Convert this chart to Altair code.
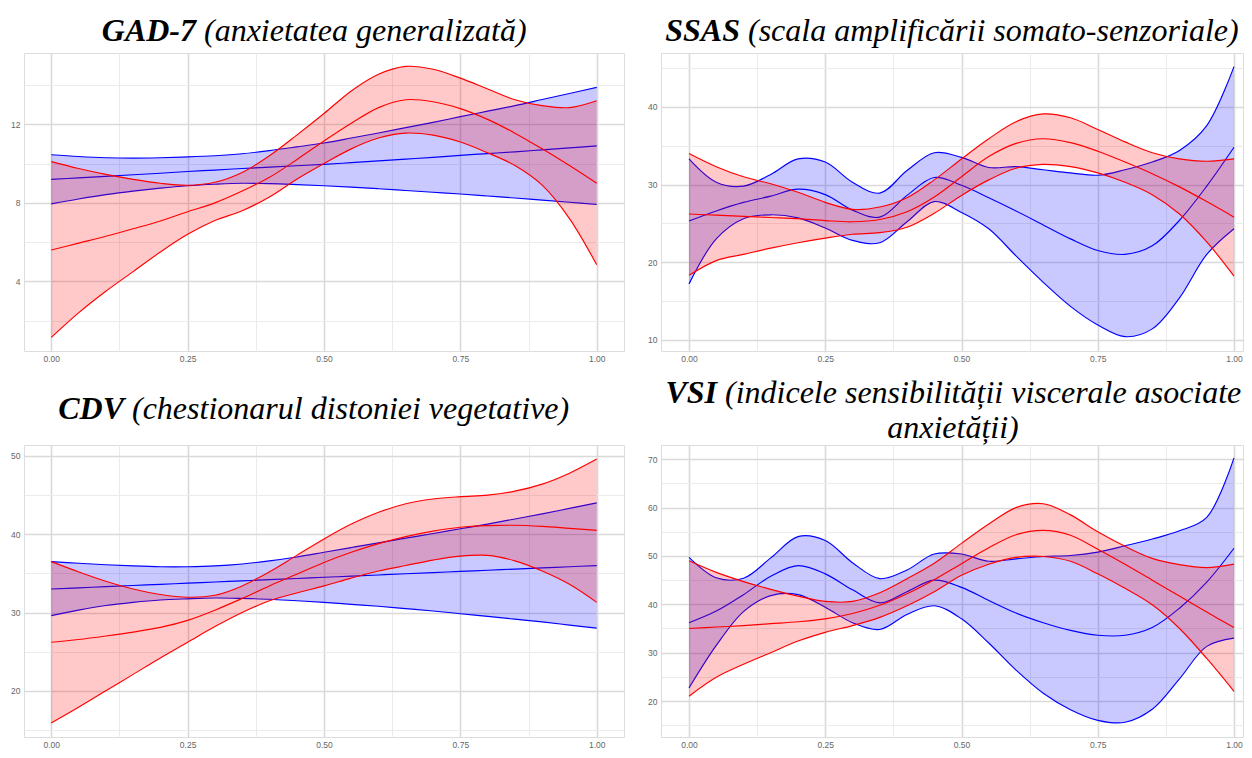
import altair as alt
import pandas as pd

# ---------------- data ----------------
x_vals = [0.0, 0.05, 0.1, 0.15, 0.2, 0.25, 0.3, 0.35, 0.4, 0.45, 0.5,
          0.55, 0.6, 0.65, 0.7, 0.75, 0.8, 0.85, 0.9, 0.95, 1.0]

gad_blue_lo = [7.95, 8.2, 8.42, 8.6, 8.75, 8.87, 8.95, 9.0, 8.98, 8.93, 8.87, 8.8, 8.72, 8.63, 8.54, 8.45, 8.35, 8.25, 8.14, 8.03, 7.92]
gad_blue_mid = [9.2, 9.27, 9.35, 9.43, 9.51, 9.6, 9.67, 9.75, 9.82, 9.89, 9.96, 10.05, 10.14, 10.23, 10.32, 10.42, 10.51, 10.6, 10.7, 10.8, 10.9]
gad_blue_hi = [10.45, 10.36, 10.3, 10.28, 10.3, 10.34, 10.4, 10.5, 10.66, 10.85, 11.05, 11.3, 11.56, 11.83, 12.1, 12.39, 12.67, 12.95, 13.26, 13.57, 13.88]
gad_red_lo = [1.15, 2.4, 3.5, 4.5, 5.5, 6.4, 7.1, 7.6, 8.3, 9.2, 10.0, 10.75, 11.3, 11.55, 11.45, 11.1, 10.55, 9.9, 8.9, 7.2, 4.85]
gad_red_mid = [5.6, 5.95, 6.3, 6.68, 7.08, 7.55, 8.0, 8.6, 9.3, 10.2, 11.15, 12.05, 12.85, 13.25, 13.15, 12.8, 12.25, 11.55, 10.75, 9.9, 9.0]
gad_red_hi = [10.1, 9.75, 9.45, 9.2, 9.0, 8.9, 9.05, 9.55, 10.4, 11.45, 12.55, 13.7, 14.55, 14.95, 14.8, 14.35, 13.8, 13.25, 12.95, 12.85, 13.2]

ssas_blue_lo = [17.2, 23.0, 25.6, 26.1, 25.7, 24.4, 22.8, 22.5, 25.2, 27.8, 26.4, 24.3, 20.8, 17.4, 14.3, 11.9, 10.4, 11.4, 15.4, 21.0, 24.3]
ssas_blue_mid = [25.3, 26.6, 27.7, 28.5, 29.4, 28.7, 26.7, 25.8, 28.6, 30.9, 29.9, 28.3, 26.6, 24.8, 23.0, 21.5, 21.0, 22.1, 25.4, 29.8, 34.8]
ssas_blue_hi = [33.3, 30.3, 29.8, 31.3, 33.3, 32.9, 30.3, 28.9, 31.8, 34.1, 33.5, 32.2, 32.3, 31.9, 31.5, 31.2, 31.9, 32.9, 34.4, 37.6, 45.2]
ssas_red_lo = [18.3, 20.2, 21.0, 21.8, 22.5, 23.1, 23.6, 23.8, 24.5, 26.3, 28.6, 30.6, 32.1, 32.6, 32.3, 31.5, 30.3, 28.7, 26.2, 22.6, 18.2]
ssas_red_mid = [26.2, 26.05, 25.9, 25.75, 25.6, 25.35, 25.2, 25.5, 26.5, 28.4, 31.0, 33.6, 35.3, 35.9, 35.4, 34.3, 32.9, 31.4, 29.7, 27.8, 25.8]
ssas_red_hi = [34.0, 32.3, 31.0, 30.1, 29.0, 27.7, 26.8, 27.1, 28.3, 30.6, 33.3, 35.9, 38.1, 39.1, 38.6, 37.1, 35.5, 34.1, 33.3, 33.0, 33.3]

cdv_blue_lo = [29.6, 30.3, 30.9, 31.3, 31.6, 31.75, 31.85, 31.8, 31.7, 31.5, 31.3, 31.05, 30.8, 30.5, 30.2, 29.85, 29.5, 29.15, 28.8, 28.4, 28.0]
cdv_blue_mid = [33.0, 33.15, 33.3, 33.45, 33.6, 33.75, 33.9, 34.05, 34.2, 34.35, 34.5, 34.65, 34.8, 34.95, 35.1, 35.25, 35.4, 35.55, 35.7, 35.85, 36.0]
cdv_blue_hi = [36.5, 36.3, 36.1, 35.95, 35.85, 35.85, 35.95, 36.2, 36.6, 37.1, 37.7, 38.3, 38.9, 39.5, 40.1, 40.7, 41.3, 41.95, 42.6, 43.3, 44.0]
cdv_red_lo = [15.9, 17.9, 20.0, 22.1, 24.2, 26.2, 28.2, 30.0, 31.5, 32.5, 33.4, 34.4, 35.3, 36.0, 36.7, 37.2, 37.3, 36.6, 35.3, 33.6, 31.3]
cdv_red_mid = [26.2, 26.55, 27.0, 27.5, 28.1, 29.0, 30.3, 31.8, 33.4, 34.9, 36.4, 37.7, 38.8, 39.7, 40.4, 40.9, 41.1, 41.15, 41.0, 40.75, 40.5]
cdv_red_hi = [36.5, 35.2, 34.0, 33.0, 32.3, 31.95, 32.2, 33.4, 35.2, 37.3, 39.4, 41.3, 42.8, 43.9, 44.5, 44.8, 45.0, 45.5, 46.4, 47.8, 49.6]

vsi_blue_lo = [22.7, 31.5, 38.5, 41.8, 42.0, 39.4, 36.2, 34.8, 37.9, 39.7, 37.0, 32.0, 26.4, 21.6, 18.2, 16.0, 15.6, 18.3, 24.6, 31.3, 33.0]
vsi_blue_mid = [36.2, 38.6, 42.0, 45.8, 48.0, 46.3, 43.0, 40.3, 42.6, 45.0, 43.5, 40.8, 38.2, 36.2, 34.6, 33.6, 33.6, 35.2, 39.2, 44.6, 51.6]
vsi_blue_hi = [49.7, 45.5, 45.4, 49.6, 54.0, 53.2, 48.6, 45.3, 47.1, 50.4, 50.4, 48.9, 49.4, 49.9, 50.1, 50.8, 52.1, 53.5, 55.2, 58.0, 70.3]
vsi_red_lo = [21.0, 24.9, 27.6, 30.0, 32.4, 34.2, 35.6, 37.3, 39.7, 42.6, 46.0, 48.3, 49.7, 49.9, 48.9, 46.3, 43.3, 39.9, 35.0, 28.8, 22.0]
vsi_red_mid = [35.0, 35.3, 35.6, 36.0, 36.4, 37.0, 38.1, 39.8, 42.2, 45.1, 48.4, 51.7, 54.4, 55.3, 54.3, 51.4, 48.3, 45.0, 41.7, 38.4, 35.2]
vsi_red_hi = [49.0, 46.6, 44.7, 43.1, 41.7, 40.6, 40.6, 42.4, 45.3, 48.5, 52.6, 56.6, 60.0, 60.8, 58.5, 55.0, 52.0, 49.5, 48.2, 47.6, 48.3]

# tick / grid values
x_ticks = [0.0, 0.125, 0.25, 0.375, 0.5, 0.625, 0.75, 0.875, 1.0]
gad_ticks = [2, 4, 6, 8, 10, 12, 14]
ssas_ticks = [10, 15, 20, 25, 30, 35, 40, 45]
cdv_ticks = [15, 20, 25, 30, 35, 40, 45, 50]
vsi_ticks = [15, 20, 25, 30, 35, 40, 45, 50, 55, 60, 65, 70]

# titles (bold abbreviation + italic description)
gad_title = ["GAD-7", "(anxietatea generalizată)"]
ssas_title = ["SSAS", "(scala amplificării somato-senzoriale)"]
cdv_title = ["CDV", "(chestionarul distoniei vegetative)"]
vsi_title = ["VSI", "(indicele sensibilității viscerale asociate", "anxietății)"]

RED = "#ff0000"
BLUE = "#0000ff"
SERIF = "Liberation Serif"
INTERP = "catmull-rom"


def band_df(lo, mid, hi):
    return pd.DataFrame({"x": x_vals, "lo": lo, "mid": mid, "hi": hi})


def grid_cond(test):
    color = {"condition": {"test": test, "value": "#d9d9d9"}, "value": "#ebebeb"}
    width = {"condition": {"test": test, "value": 1.6}, "value": 1.0}
    return color, width


def make_panel(blue, red, xdomain, ydomain, yticks, ymajor, width, height, titles):
    xc, xw = grid_cond("(datum.value * 4) % 1 == 0")
    yc, yw = grid_cond(f"datum.value % {ymajor} == 0")
    xaxis = alt.Axis(values=x_ticks, format=".2f",
                     labelExpr="(datum.value * 4) % 1 == 0 ? datum.label : ''",
                     grid=True, gridColor=xc, gridWidth=xw, domain=False,
                     ticks=False, tickSize=0, labelPadding=3, labelFontSize=8.5,
                     labelColor="#666666", labelFont="Liberation Sans",
                     labelOverlap=False, labelFlush=False, title=None)
    yaxis = alt.Axis(values=yticks,
                     labelExpr=f"datum.value % {ymajor} == 0 ? datum.label : ''",
                     grid=True, gridColor=yc, gridWidth=yw, domain=False,
                     ticks=False, tickSize=0, labelPadding=4, labelFontSize=8.5,
                     labelColor="#666666", labelFont="Liberation Sans",
                     labelOverlap=False, title=None)
    xs = alt.Scale(domain=xdomain, nice=False, zero=False)
    ys = alt.Scale(domain=ydomain, nice=False, zero=False)

    def bands(df, color):
        base = alt.Chart(df)
        area = base.mark_area(interpolate=INTERP, color=color, fillOpacity=0.21).encode(
            x=alt.X("x:Q", scale=xs, axis=xaxis),
            y=alt.Y("lo:Q", scale=ys, axis=yaxis),
            y2="hi:Q",
        )
        lines = base.transform_fold(["lo", "mid", "hi"], as_=["k", "v"]).mark_line(
            interpolate=INTERP, color=color, strokeWidth=1.15).encode(
            x=alt.X("x:Q", scale=xs, axis=xaxis),
            y=alt.Y("v:Q", scale=ys, axis=yaxis),
            detail="k:N",
        )
        return [area, lines]

    layers = bands(blue, BLUE) + bands(red, RED)
    for text, px, py, align, bold in titles:
        layers.append(
            alt.Chart(alt.Data(values=[{"t": text}])).mark_text(
                align=align, baseline="alphabetic", font=SERIF, fontSize=32,
                fontStyle="italic", fontWeight="bold" if bold else "normal",
                color="#000000").encode(
                text="t:N", x=alt.value(px), y=alt.value(py))
        )
    return alt.layer(*layers).properties(width=width, height=height)


LEFT_X = [-0.05, 1.05]
RIGHT_X = [-0.0514, 1.0165]

p1 = make_panel(band_df(gad_blue_lo, gad_blue_mid, gad_blue_hi),
                band_df(gad_red_lo, gad_red_mid, gad_red_hi),
                LEFT_X, [0.46, 15.63], gad_ticks, 4, 600, 298,
                [(gad_title[0], 172, -12, "right", True),
                 (gad_title[1], 180, -12, "left", False)])
p2 = make_panel(band_df(ssas_blue_lo, ssas_blue_mid, ssas_blue_hi),
                band_df(ssas_red_lo, ssas_red_mid, ssas_red_hi),
                RIGHT_X, [8.55, 46.95], ssas_ticks, 10, 582, 298,
                [(ssas_title[0], 79, -12, "right", True),
                 (ssas_title[1], 87, -12, "left", False)])
p3 = make_panel(band_df(cdv_blue_lo, cdv_blue_mid, cdv_blue_hi),
                band_df(cdv_red_lo, cdv_red_mid, cdv_red_hi),
                LEFT_X, [14.1, 51.4], cdv_ticks, 10, 600, 292,
                [(cdv_title[0], 100, -26, "right", True),
                 (cdv_title[1], 108, -26, "left", False)])
p4 = make_panel(band_df(vsi_blue_lo, vsi_blue_mid, vsi_blue_hi),
                band_df(vsi_red_lo, vsi_red_mid, vsi_red_hi),
                RIGHT_X, [12.56, 72.95], vsi_ticks, 10, 582, 292,
                [(vsi_title[0], 56, -42, "right", True),
                 (vsi_title[1], 64, -42, "left", False),
                 (vsi_title[2], 292, -7, "center", False)])

chart = alt.concat(p1, p2, p3, p4, columns=2,
                   spacing={"row": 94, "column": 37}, bounds="flush").properties(
    padding={"left": 2, "top": 6, "right": 0, "bottom": 0}
).configure_view(stroke=None).configure(background="white")

chart.save("out.html", embed_options={"renderer": "svg", "actions": False})
